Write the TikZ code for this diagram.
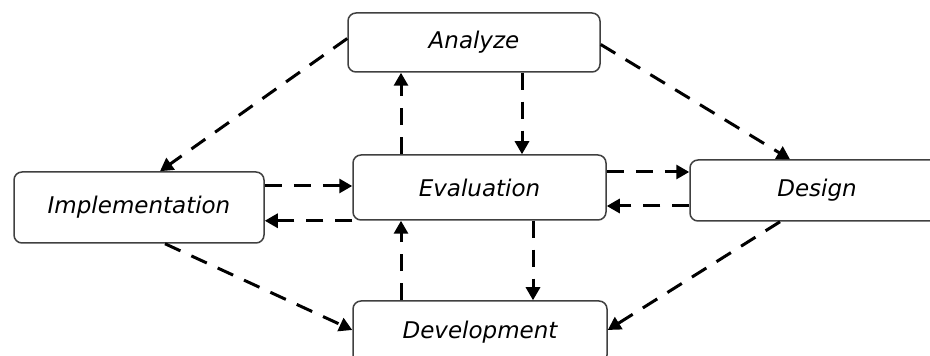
\documentclass[tikz,border=0pt]{standalone}
\usepackage{fontspec}
\setmainfont{DejaVu Sans}
\usetikzlibrary{arrows.meta}
\begin{document}
\begin{tikzpicture}[>={Triangle[length=13pt,width=14pt]},x=1pt,y=1pt,
		box/.style={draw=black!75,line width=1.5pt,rounded corners=8pt,fill=white,inner sep=0pt,font=\fontsize{23}{27}\selectfont\itshape},
		flow/.style={->,line width=3pt,dash pattern=on 17pt off 12pt}]
		\clip (0,0) rectangle (930,356);
		\node[box,minimum width=252pt,minimum height=59pt] (ana) at (474,313.5) {Analyze};
		\node[box,minimum width=253pt,minimum height=65pt] (eval) at (479.5,168.5) {Evaluation};
		\node[box,minimum width=250pt,minimum height=71pt] (impl) at (139,148.5) {Implementation};
		\node[box,minimum width=254pt,minimum height=61pt] (des) at (817,165.5) {Design};
		\node[box,minimum width=254pt,minimum height=62pt] (dev) at (480,24) {Development};
		\draw[flow] ([yshift=4pt]ana.west)--([xshift=21pt]impl.north);
		\draw[flow] ([yshift=-2pt]ana.east)--([xshift=-27pt]des.north);
		\draw[flow] ([xshift=-78.5pt]eval.north)--([xshift=-73pt]ana.south);
		\draw[flow] ([xshift=48pt]ana.south)--([xshift=42.5pt]eval.north);
		\draw[flow] ([yshift=21.5pt]impl.east)--([yshift=1.5pt]eval.west);
		\draw[flow] (eval.south west)--(impl.east |- eval.south west);
		\draw[flow] ([yshift=15.5pt]eval.east)--([yshift=18.5pt]des.west);
		\draw[flow] ([yshift=-15.5pt]des.west)--([yshift=-18.5pt]eval.east);
		\draw[flow] ([xshift=26pt]impl.south)--([yshift=2pt]dev.west);
		\draw[flow] ([xshift=-37pt]des.south)--([yshift=2pt]dev.east);
		\draw[flow] ([xshift=-79pt]dev.north)--([xshift=-78.5pt]eval.south);
		\draw[flow] ([xshift=53.5pt]eval.south)--([xshift=53pt]dev.north);
		\end{tikzpicture}
\end{document}
